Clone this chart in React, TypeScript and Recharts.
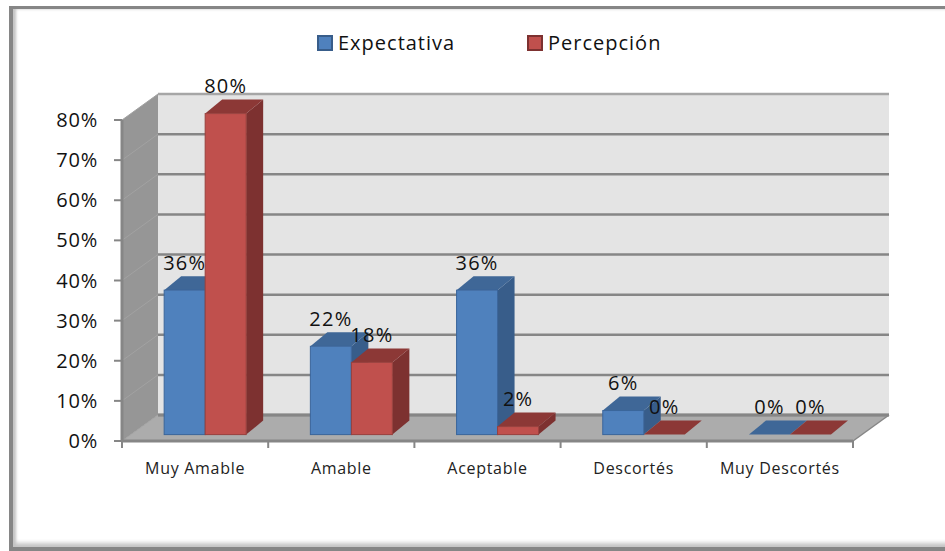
import { Bar, BarChart, CartesianGrid, LabelList, Legend, ReferenceArea, XAxis, YAxis } from "recharts";

const categories = ["Muy Amable", "Amable", "Aceptable", "Descortés", "Muy Descortés"];
const expectativa = [36, 22, 36, 6, 0];
const percepcion = [80, 18, 2, 0, 0];
const yTicks = [0, 10, 20, 30, 40, 50, 60, 70, 80];

const data = categories.map((name, i) => ({
  name,
  Expectativa: expectativa[i],
  "Percepción": percepcion[i],
}));

const FONT = "'Open Sans', sans-serif";
const AXIS = "#868686";
const PLOT_TOP = 120;
// depth of the fake 3d box and of the bars
const WALL_DX = 36;
const WALL_DY = 26;
const BAR_DX = 17;
const BAR_DY = 14;
const BAR_SHIFT_X = 10;
const BAR_SHIFT_Y = 6.4;

const barColors: Record<string, { side: string; top: string; line: string }> = {
  "#4f81bd": { side: "#385d8a", top: "#3f6797", line: "#3a659b" },
  "#c0504d": { side: "#7d3130", top: "#8c3836", line: "#98403d" },
};

function Walls({ x, y, width, height }: any) {
  const b = y + height;
  const r = x + width;
  const count = categories.length;
  return (
    <g>
      <rect x={x + WALL_DX} y={y - WALL_DY} width={width} height={height} fill="#e4e4e4" />
      <polygon
        points={`${x},${y} ${x + WALL_DX},${y - WALL_DY} ${x + WALL_DX},${b - WALL_DY} ${x},${b}`}
        fill="#969696"
      />
      <polygon
        points={`${x},${b} ${x + WALL_DX},${b - WALL_DY} ${r + WALL_DX},${b - WALL_DY} ${r},${b}`}
        fill="#acacac"
      />
      <line x1={x + WALL_DX} y1={b - WALL_DY} x2={r + WALL_DX} y2={b - WALL_DY} stroke={AXIS} strokeWidth={3} />
      <line x1={r} y1={b} x2={r + WALL_DX} y2={b - WALL_DY} stroke={AXIS} strokeWidth={1.5} />
      {categories.concat("").map((_, i) => (
        <line
          key={i}
          x1={x + (width * i) / count}
          x2={x + (width * i) / count}
          y1={b}
          y2={b + 7}
          stroke={AXIS}
          strokeWidth={2}
        />
      ))}
    </g>
  );
}

function GridLine({ x1, y1, x2, y2 }: any) {
  return (
    <g>
      <line x1={x1} y1={y1} x2={x1 + WALL_DX} y2={y2 - WALL_DY} stroke="#a2a2a2" strokeWidth={1} />
      <line
        x1={x1 + WALL_DX}
        y1={y1 - WALL_DY}
        x2={x2 + WALL_DX}
        y2={y2 - WALL_DY}
        stroke={y1 <= PLOT_TOP ? "#a6a6a6" : AXIS}
        strokeWidth={2.5}
      />
    </g>
  );
}

function Bar3D({ x, y, width, height, fill }: any) {
  const c = barColors[fill];
  const l = x + BAR_SHIFT_X;
  const t = y - BAR_SHIFT_Y;
  const r = l + width;
  const b = t + height;
  return (
    <g>
      <polygon points={`${r},${t} ${r + BAR_DX},${t - BAR_DY} ${r + BAR_DX},${b - BAR_DY} ${r},${b}`} fill={c.side} />
      <polygon points={`${l},${t} ${l + BAR_DX},${t - BAR_DY} ${r + BAR_DX},${t - BAR_DY} ${r},${t}`} fill={c.top} />
      {height > 0 && <rect x={l} y={t} width={width} height={height} fill={fill} stroke={c.line} strokeWidth={1} />}
    </g>
  );
}

function BarLabel({ x, y, width, value }: any) {
  return (
    <text
      x={x + BAR_SHIFT_X + width / 2}
      y={y - 27}
      textAnchor="middle"
      fontFamily={FONT}
      fontSize={20}
      letterSpacing={1.2}
      fill="#111"
    >
      {value}%
    </text>
  );
}

function LegendRow({ payload }: any) {
  const left = [317, 527];
  return (
    <div>
      {payload.map((p: any, i: number) => (
        <div key={p.value} style={{ position: "absolute", left: left[i], top: 0, display: "flex", alignItems: "center" }}>
          <span
            style={{
              boxSizing: "border-box",
              width: 16,
              height: 16,
              background: p.color,
              border: `2px solid ${barColors[p.color].side}`,
            }}
          />
          <span style={{ marginLeft: 5, fontFamily: FONT, fontSize: 20, letterSpacing: 1, color: "#111", whiteSpace: "nowrap" }}>
            {p.value}
          </span>
        </div>
      ))}
    </div>
  );
}

export default function App() {
  return (
    <div
      style={{
        position: "fixed",
        left: 0,
        top: 0,
        width: 945,
        height: 551,
        background: "#fff",
        overflow: "hidden",
      }}
    >
      <div
        style={{
          position: "absolute",
          left: 9,
          top: 6,
          right: -6,
          bottom: 0,
          borderLeft: `4px solid ${AXIS}`,
          borderTop: `3px solid ${AXIS}`,
          borderBottom: `4px solid ${AXIS}`,
          boxShadow: "inset 3px 0 3px #c4c4c4, inset 0 -4px 4px #c4c4c4",
        }}
      />
      <BarChart
        width={945}
        height={551}
        data={data}
        margin={{ top: PLOT_TOP, right: 92, bottom: 0, left: 0 }}
        barCategoryGap="22%"
        barGap={0}
        style={{ position: "absolute", left: 0, top: 0 }}
      >
        <ReferenceArea y1={0} y2={80} shape={Walls} ifOverflow="visible" zIndex={-200} />
        <CartesianGrid vertical={false} horizontal={GridLine} syncWithTicks />
        <XAxis
          dataKey="name"
          height={110}
          tickLine={false}
          axisLine={{ stroke: AXIS, strokeWidth: 3 }}
          tickMargin={16}
          tick={{ fontFamily: FONT, fontSize: 16, letterSpacing: 0.7, fill: "#222" }}
          interval={0}
        />
        <YAxis
          width={122}
          domain={[0, 80]}
          ticks={yTicks}
          tickFormatter={(v) => `${v}%`}
          tickSize={8}
          tickMargin={16}
          axisLine={{ stroke: AXIS, strokeWidth: 3 }}
          tickLine={{ stroke: AXIS, strokeWidth: 2 }}
          tick={{ fontFamily: FONT, fontSize: 20, letterSpacing: 0.8, fill: "#111" }}
        />
        <Legend
          layout="vertical"
          align="center"
          verticalAlign="middle"
          content={LegendRow}
          wrapperStyle={{ left: 0, top: 29, width: 945 }}
        />
        <Bar dataKey="Expectativa" fill="#4f81bd" shape={Bar3D} isAnimationActive={false}>
          <LabelList dataKey="Expectativa" content={BarLabel} />
        </Bar>
        <Bar dataKey="Percepción" fill="#c0504d" shape={Bar3D} isAnimationActive={false}>
          <LabelList dataKey="Percepción" content={BarLabel} />
        </Bar>
      </BarChart>
    </div>
  );
}
